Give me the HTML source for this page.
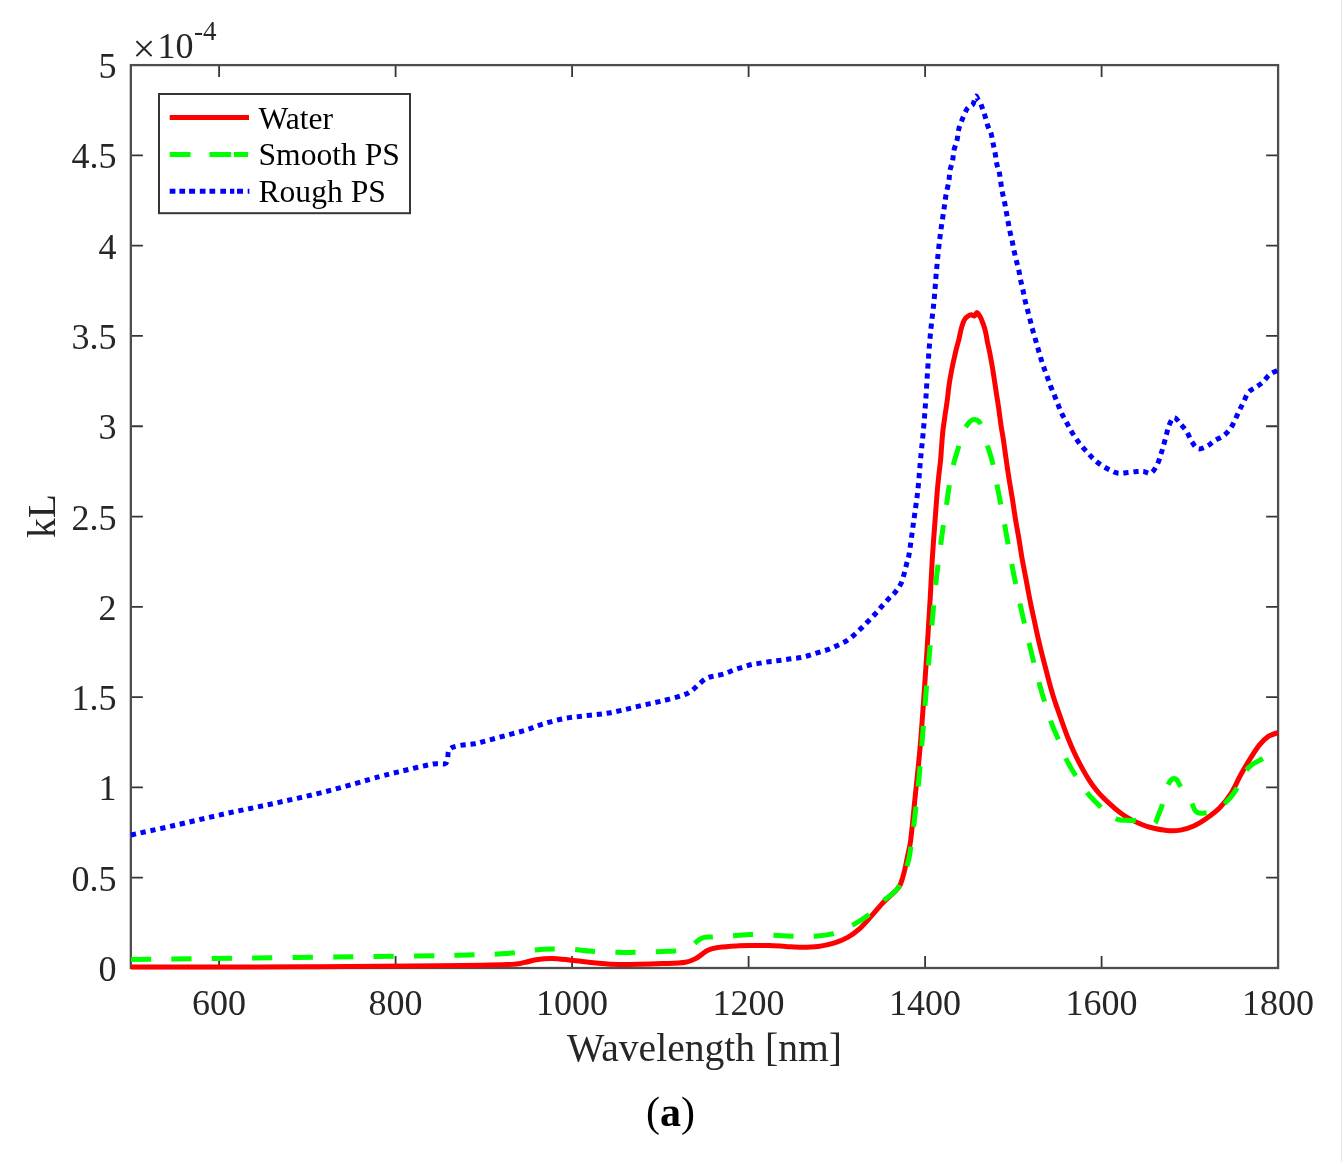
<!DOCTYPE html><html><head><meta charset="utf-8"><style>
html,body{margin:0;padding:0;background:#fff;}
body{width:1344px;height:1164px;overflow:hidden;}
svg{display:block;will-change:transform;}
text{font-family:"Liberation Serif",serif;}
</style></head><body>
<svg width="1344" height="1164" viewBox="0 0 1344 1164">
<rect x="0" y="0" width="1344" height="1164" fill="#ffffff"/>
<rect x="1341" y="0" width="1" height="1162" fill="#f1e4e6"/>
<defs><clipPath id="pc"><rect x="129.35" y="0" width="1149.75" height="1164"/></clipPath></defs>
<path d="M219.10 968.00 V956.00 M219.10 65.10 V77.10 M395.60 968.00 V956.00 M395.60 65.10 V77.10 M572.10 968.00 V956.00 M572.10 65.10 V77.10 M748.60 968.00 V956.00 M748.60 65.10 V77.10 M925.10 968.00 V956.00 M925.10 65.10 V77.10 M1101.60 968.00 V956.00 M1101.60 65.10 V77.10 M130.85 877.71 H142.85 M1278.10 877.71 H1266.10 M130.85 787.42 H142.85 M1278.10 787.42 H1266.10 M130.85 697.13 H142.85 M1278.10 697.13 H1266.10 M130.85 606.84 H142.85 M1278.10 606.84 H1266.10 M130.85 516.55 H142.85 M1278.10 516.55 H1266.10 M130.85 426.26 H142.85 M1278.10 426.26 H1266.10 M130.85 335.97 H142.85 M1278.10 335.97 H1266.10 M130.85 245.68 H142.85 M1278.10 245.68 H1266.10 M130.85 155.39 H142.85 M1278.10 155.39 H1266.10" stroke="#363636" stroke-width="1.8" fill="none"/>
<rect x="130.85" y="65.10" width="1147.25" height="902.90" fill="none" stroke="#4e4e4e" stroke-width="2.3"/>
<g clip-path="url(#pc)" fill="none" stroke-width="5.0" stroke-linejoin="round">
<path d="M131.00 967.00 C159.17 966.97 248.50 967.00 300.00 966.80 C351.50 966.60 405.50 966.17 440.00 965.80 C474.50 965.43 492.87 965.17 507.00 964.60 C521.13 964.03 519.97 963.22 524.80 962.40 C529.63 961.58 531.53 960.37 536.00 959.70 C540.47 959.03 545.65 958.32 551.60 958.40 C557.55 958.48 564.26 959.45 571.70 960.20 C579.14 960.95 588.43 962.17 596.25 962.90 C604.07 963.63 607.44 964.48 618.60 964.60 C629.76 964.72 652.05 964.00 663.20 963.60 C674.35 963.20 679.92 963.13 685.50 962.20 C691.08 961.27 692.97 960.00 696.70 958.00 C700.43 956.00 704.18 951.97 707.90 950.20 C711.62 948.43 714.25 948.12 719.00 947.40 C723.75 946.68 730.78 946.20 736.40 945.90 C742.02 945.60 747.25 945.65 752.70 945.60 C758.15 945.55 763.63 945.47 769.10 945.60 C774.57 945.73 780.05 946.13 785.50 946.40 C790.95 946.67 796.35 947.20 801.80 947.20 C807.25 947.20 812.73 947.13 818.20 946.40 C823.67 945.67 829.68 944.30 834.60 942.80 C839.52 941.30 843.62 939.67 847.70 937.40 C851.78 935.13 855.28 932.62 859.10 929.20 C862.92 925.78 866.50 921.43 870.60 916.90 C874.70 912.37 879.60 906.28 883.70 902.00 C887.80 897.72 892.52 893.95 895.20 891.20 C897.88 888.45 898.50 887.95 899.80 885.50 C901.10 883.05 902.10 879.45 903.00 876.50 C903.90 873.55 904.33 871.70 905.20 867.80 C906.07 863.90 907.28 857.73 908.20 853.10 C909.12 848.47 909.62 848.65 910.70 840.00 C911.78 831.35 913.12 816.83 914.70 801.20 C916.28 785.57 918.45 766.82 920.20 746.20 C921.95 725.58 923.63 700.42 925.20 677.50 C926.77 654.58 928.60 625.07 929.60 608.70 C930.60 592.33 930.75 587.58 931.20 579.30 C931.65 571.02 931.90 565.55 932.30 559.00 C932.70 552.45 933.13 546.50 933.60 540.00 C934.07 533.50 934.68 525.60 935.10 520.00 C935.52 514.40 935.73 511.25 936.10 506.40 C936.47 501.55 936.85 496.05 937.30 490.90 C937.75 485.75 938.25 480.65 938.80 475.50 C939.35 470.35 940.13 464.85 940.60 460.00 C941.07 455.15 941.22 451.25 941.60 446.40 C941.98 441.55 942.33 436.05 942.90 430.90 C943.47 425.75 944.27 420.65 945.00 415.50 C945.73 410.35 946.65 404.85 947.30 400.00 C947.95 395.15 948.20 391.25 948.90 386.40 C949.60 381.55 950.52 376.05 951.50 370.90 C952.48 365.75 953.87 359.65 954.80 355.50 C955.73 351.35 956.42 348.67 957.10 346.00 C957.78 343.33 958.30 342.00 958.90 339.50 C959.50 337.00 960.10 333.50 960.70 331.00 C961.30 328.50 961.85 326.42 962.50 324.50 C963.15 322.58 963.72 320.87 964.60 319.50 C965.48 318.13 966.68 317.10 967.80 316.30 C968.92 315.50 970.20 314.75 971.30 314.70 C972.40 314.65 973.43 316.35 974.40 316.00 C975.37 315.65 976.08 312.37 977.10 312.60 C978.12 312.83 979.53 315.63 980.50 317.40 C981.47 319.17 982.18 321.27 982.90 323.20 C983.62 325.13 984.25 327.03 984.80 329.00 C985.35 330.97 985.75 332.75 986.20 335.00 C986.65 337.25 986.97 339.83 987.50 342.50 C988.03 345.17 988.70 347.52 989.40 351.00 C990.10 354.48 990.93 359.02 991.70 363.40 C992.47 367.78 993.23 372.40 994.00 377.30 C994.77 382.20 995.52 387.65 996.30 392.80 C997.08 397.95 997.92 402.78 998.70 408.20 C999.48 413.62 1000.23 420.13 1001.00 425.30 C1001.77 430.47 1002.49 433.85 1003.30 439.20 C1004.11 444.55 1005.11 452.19 1005.85 457.38 C1006.59 462.56 1007.15 466.43 1007.73 470.30 C1008.30 474.17 1008.78 477.22 1009.33 480.60 C1009.87 483.98 1010.45 487.32 1011.00 490.60 C1011.55 493.88 1012.10 497.02 1012.62 500.30 C1013.15 503.58 1013.61 506.92 1014.12 510.30 C1014.64 513.68 1015.14 517.22 1015.70 520.60 C1016.26 523.98 1016.90 527.32 1017.47 530.60 C1018.05 533.88 1018.63 537.02 1019.17 540.30 C1019.72 543.58 1020.18 546.92 1020.73 550.30 C1021.27 553.68 1021.85 557.22 1022.45 560.60 C1023.05 563.98 1023.72 567.32 1024.35 570.60 C1024.98 573.88 1025.60 577.02 1026.22 580.30 C1026.85 583.58 1027.44 586.92 1028.07 590.30 C1028.71 593.68 1029.35 597.22 1030.03 600.60 C1030.70 603.98 1031.42 607.32 1032.12 610.60 C1032.83 613.88 1033.52 617.02 1034.23 620.30 C1034.93 623.58 1035.61 626.92 1036.35 630.30 C1037.09 633.68 1037.89 637.22 1038.67 640.60 C1039.46 643.98 1040.22 647.12 1041.08 650.60 C1041.93 654.08 1042.78 657.41 1043.83 661.48 C1044.88 665.54 1046.17 670.45 1047.38 675.00 C1048.58 679.55 1049.85 684.57 1051.03 688.75 C1052.20 692.93 1053.27 696.48 1054.43 700.08 C1055.58 703.67 1056.78 706.88 1057.97 710.30 C1059.17 713.72 1060.40 717.22 1061.60 720.60 C1062.80 723.98 1063.98 727.32 1065.20 730.60 C1066.42 733.88 1067.58 737.02 1068.90 740.30 C1070.23 743.58 1071.61 746.92 1073.15 750.30 C1074.69 753.68 1076.40 757.22 1078.12 760.60 C1079.85 763.98 1081.72 767.48 1083.47 770.60 C1085.23 773.73 1086.99 776.68 1088.67 779.35 C1090.36 782.02 1091.88 784.30 1093.58 786.60 C1095.28 788.90 1097.03 791.05 1098.88 793.12 C1100.72 795.20 1102.75 797.20 1104.62 799.05 C1106.50 800.90 1108.33 802.59 1110.10 804.20 C1111.87 805.81 1113.31 807.14 1115.23 808.73 C1117.14 810.31 1119.04 811.95 1121.60 813.72 C1124.16 815.50 1127.43 817.70 1130.60 819.40 C1133.77 821.10 1137.37 822.63 1140.60 823.95 C1143.83 825.27 1145.60 826.21 1150.00 827.30 C1154.40 828.39 1161.93 830.03 1167.00 830.50 C1172.07 830.97 1175.94 830.85 1180.40 830.10 C1184.86 829.35 1189.30 828.02 1193.75 826.00 C1198.20 823.98 1202.72 821.08 1207.10 818.00 C1211.47 814.92 1215.97 811.67 1220.00 807.50 C1224.03 803.33 1227.93 798.28 1231.30 793.00 C1234.67 787.72 1237.25 781.20 1240.20 775.80 C1243.15 770.40 1245.85 765.67 1249.00 760.60 C1252.15 755.53 1255.93 749.40 1259.10 745.40 C1262.27 741.40 1264.85 738.73 1268.00 736.60 C1271.15 734.47 1276.33 733.27 1278.00 732.60" stroke="#ff0000"/>
<path d="M131.00 959.50 C150.83 959.25 209.33 958.50 250.00 958.00 C290.67 957.50 340.33 956.97 375.00 956.50 C409.67 956.03 436.00 955.70 458.00 955.20 C480.00 954.70 494.38 954.35 507.00 953.50 C519.62 952.65 526.32 950.85 533.75 950.10 C541.18 949.35 544.89 949.10 551.60 949.00 C558.31 948.90 567.30 949.12 574.00 949.50 C580.70 949.88 582.52 950.77 591.80 951.25 C601.08 951.73 617.80 952.36 629.70 952.40 C641.60 952.44 655.65 951.75 663.20 951.50 C670.75 951.25 671.37 951.38 675.00 950.90 C678.63 950.42 681.93 949.70 685.00 948.60 C688.07 947.50 691.10 945.77 693.40 944.30 C695.70 942.83 697.02 940.95 698.80 939.80 C700.58 938.65 701.88 937.87 704.10 937.40 C706.32 936.93 707.38 937.25 712.10 937.00 C716.82 936.75 725.90 936.30 732.40 935.90 C738.90 935.50 744.17 934.70 751.10 934.60 C758.03 934.50 767.18 935.03 774.00 935.30 C780.82 935.57 785.45 936.05 792.00 936.20 C798.55 936.35 806.47 936.63 813.30 936.20 C820.13 935.77 826.45 935.45 833.00 933.60 C839.55 931.75 846.75 928.15 852.60 925.10 C858.45 922.05 862.92 919.38 868.10 915.30 C873.28 911.22 878.65 905.23 883.70 900.60 C888.75 895.97 894.45 893.50 898.40 887.50" stroke="#00ff00" stroke-dasharray="20.3 20.1" stroke-dashoffset="0.00"/>
<path d="M898.40 887.50 C902.35 881.50 905.35 871.15 907.40 864.60 C909.45 858.05 909.48 856.02 910.70 848.20 C911.92 840.38 913.33 829.20 914.70 817.70 C916.07 806.20 917.62 792.48 918.90 779.20 C920.18 765.92 921.27 751.75 922.40 738.00 C923.53 724.25 924.55 710.45 925.70 696.70 C926.85 682.95 928.15 668.78 929.30 655.50 C930.45 642.22 931.37 630.30 932.60 617.00 C933.83 603.70 935.30 588.13 936.70 575.70 C938.10 563.27 939.92 550.57 941.00 542.40 C942.08 534.23 942.25 533.18 943.20 526.70 C944.15 520.22 945.73 510.08 946.70 503.50 C947.67 496.92 947.85 493.78 949.00 487.20 C950.15 480.62 952.05 470.57 953.60 464.00 C955.15 457.43 956.68 453.25 958.30 447.80 C959.92 442.35 961.95 434.93 963.30 431.30 C964.65 427.67 965.28 427.63 966.40 426.00 C967.52 424.37 968.65 422.58 970.00 421.50 C971.35 420.42 972.78 419.18 974.50 419.50 C976.22 419.82 978.28 419.47 980.30 423.40 C982.32 427.33 984.60 436.72 986.60 443.10" stroke="#00ff00" stroke-dasharray="20.3 20.1" stroke-dashoffset="17.48"/>
<path d="M986.60 443.10 C988.60 449.48 990.60 454.88 992.30 461.70 C994.00 468.52 994.77 473.62 996.80 484.00 C998.83 494.38 1002.02 510.67 1004.50 524.00 C1006.98 537.33 1009.12 550.67 1011.70 564.00 C1014.28 577.33 1017.07 590.67 1020.00 604.00 C1022.93 617.33 1026.13 630.90 1029.30 644.00 C1032.47 657.10 1035.45 669.82 1039.00 682.60 C1042.55 695.38 1047.47 711.43 1050.60 720.70 C1053.73 729.97 1055.27 731.95 1057.80 738.20 C1060.33 744.45 1062.82 751.93 1065.80 758.20 C1068.78 764.47 1072.17 770.07 1075.70 775.80 C1079.23 781.53 1082.80 787.37 1087.00 792.60 C1091.20 797.83 1097.07 803.47 1100.90 807.20 C1104.73 810.93 1107.20 812.98 1110.00 815.00" stroke="#00ff00" stroke-dasharray="20.3 20.1" stroke-dashoffset="37.99"/>
<path d="M1110.00 815.00 C1112.80 817.02 1115.03 818.42 1117.70 819.30 C1120.37 820.18 1122.62 820.07 1126.00 820.30 C1129.38 820.53 1134.33 820.20 1138.00 820.70 C1141.67 821.20 1145.20 822.87 1148.00 823.30 C1150.80 823.73 1153.07 824.68 1154.80 823.30 C1156.53 821.92 1157.20 817.92 1158.40 815.00 C1159.60 812.08 1160.87 809.30 1162.00 805.80 C1163.13 802.30 1164.17 797.50 1165.20 794.00 C1166.23 790.50 1167.23 787.13 1168.20 784.80 C1169.17 782.47 1170.05 781.05 1171.00 780.00 C1171.95 778.95 1172.90 778.50 1173.90 778.50 C1174.90 778.50 1176.05 778.95 1177.00 780.00 C1177.95 781.05 1178.27 782.55 1179.60 784.80 C1180.93 787.05 1183.03 790.50 1185.00 793.50 C1186.97 796.50 1189.70 799.92 1191.40 802.80 C1193.10 805.68 1193.93 809.10 1195.20 810.80 C1196.47 812.50 1197.37 812.63 1199.00 813.00 C1200.63 813.37 1202.17 813.50 1205.00 813.00 C1207.83 812.50 1212.67 811.63 1216.00 810.00 C1219.33 808.37 1222.03 806.00 1225.00 803.20 C1227.97 800.40 1231.30 796.73 1233.80 793.20 C1236.30 789.67 1238.13 785.57 1240.00 782.00 C1241.87 778.43 1242.87 774.80 1245.00 771.80 C1247.13 768.80 1250.02 766.08 1252.80 764.00 C1255.58 761.92 1258.83 760.80 1261.70 759.30 C1264.57 757.80 1267.28 756.38 1270.00 755.00 C1272.72 753.62 1276.67 751.67 1278.00 751.00" stroke="#00ff00" stroke-dasharray="20.3 20.1" stroke-dashoffset="33.75"/>
<path d="M131.00 835.00 C137.83 833.50 156.50 829.50 172.00 826.00 C187.50 822.50 206.67 817.83 224.00 814.00 C241.33 810.17 258.67 806.83 276.00 803.00 C293.33 799.17 310.67 795.42 328.00 791.00 C345.33 786.58 366.92 780.00 380.00 776.50 C393.08 773.00 397.67 772.08 406.50 770.00 C415.33 767.92 426.67 765.02 433.00 764.00 C439.33 762.98 442.08 764.57 444.50 763.90 C446.92 763.23 446.75 762.32 447.50 760.00 C448.25 757.68 447.45 752.33 449.00 750.00 C450.55 747.67 452.53 747.03 456.80 746.00 C461.07 744.97 469.77 744.65 474.60 743.80 C479.43 742.95 480.58 742.28 485.80 740.90 C491.02 739.52 499.20 737.32 505.90 735.50 C512.60 733.68 519.68 731.97 526.00 730.00 C532.32 728.03 537.47 725.60 543.80 723.70 C550.13 721.80 557.30 719.90 564.00 718.60 C570.70 717.30 577.33 716.72 584.00 715.90 C590.67 715.08 597.67 714.63 604.00 713.70 C610.33 712.77 615.67 711.68 622.00 710.30 C628.33 708.92 635.33 706.95 642.00 705.40 C648.67 703.85 655.30 702.67 662.00 701.00 C668.70 699.33 677.37 697.02 682.20 695.40 C687.03 693.78 688.28 693.10 691.00 691.30 C693.72 689.50 695.92 686.78 698.50 684.60 C701.08 682.42 703.87 679.63 706.50 678.20 C709.13 676.77 711.38 676.70 714.30 676.00 C717.22 675.30 720.88 674.93 724.00 674.00 C727.12 673.07 729.85 671.55 733.00 670.40 C736.15 669.25 739.77 668.08 742.90 667.10 C746.03 666.12 748.68 665.20 751.80 664.50 C754.92 663.80 758.33 663.42 761.60 662.90 C764.87 662.38 768.12 661.85 771.40 661.40 C774.68 660.95 778.03 660.64 781.30 660.20 C784.57 659.76 787.73 659.20 791.00 658.75 C794.27 658.30 797.77 658.09 800.90 657.50 C804.03 656.91 806.68 656.10 809.80 655.20 C812.92 654.30 816.47 653.08 819.60 652.10 C822.73 651.12 825.62 650.42 828.60 649.30 C831.58 648.18 834.53 646.80 837.50 645.40 C840.47 644.00 843.57 642.70 846.40 640.90 C849.23 639.10 851.97 636.77 854.50 634.60 C857.03 632.43 859.23 630.22 861.60 627.90 C863.98 625.58 866.37 623.15 868.75 620.70 C871.13 618.25 873.67 615.65 875.90 613.20 C878.12 610.75 879.87 608.53 882.10 606.00 C884.33 603.47 887.07 600.37 889.30 598.00 C891.53 595.63 893.57 594.17 895.50 591.80 C897.43 589.42 899.47 586.73 900.90 583.75 C902.33 580.77 903.12 577.32 904.10 573.90 C905.08 570.48 905.93 566.65 906.80 563.20 C907.67 559.75 908.20 559.85 909.30 553.20 C910.40 546.55 912.00 533.57 913.40 523.30 C914.80 513.03 916.52 502.18 917.70 491.60 C918.88 481.02 919.52 470.40 920.50 459.80 C921.48 449.20 922.68 438.58 923.60 428.00 C924.52 417.42 925.27 406.87 926.00 396.30 C926.73 385.73 927.25 375.17 928.00 364.60 C928.75 354.03 929.50 343.48 930.50 332.90 C931.50 322.32 932.98 311.68 934.00 301.10 C935.02 290.52 935.62 279.98 936.60 269.40 C937.58 258.82 938.67 247.67 939.90 237.60 C941.13 227.53 942.98 216.10 944.00 209.00 C945.02 201.90 945.18 199.67 946.00 195.00 C946.82 190.33 948.25 185.05 948.90 181.00 C949.55 176.95 949.30 173.97 949.90 170.70 C950.50 167.43 951.82 164.83 952.50 161.40 C953.18 157.97 953.23 153.70 954.00 150.10 C954.77 146.50 956.32 143.23 957.10 139.80 C957.88 136.37 957.83 132.93 958.70 129.50 C959.57 126.07 960.85 122.72 962.30 119.20 C963.75 115.68 965.68 110.82 967.40 108.40 C969.12 105.98 971.42 106.10 972.60 104.70 C973.78 103.30 973.90 101.45 974.50 100.00 C975.10 98.55 975.65 96.17 976.20 96.00 C976.75 95.83 977.28 98.23 977.80 99.00 C978.32 99.77 978.62 99.30 979.30 100.60 C979.98 101.90 980.95 104.23 981.90 106.80 C982.85 109.37 983.98 112.73 985.00 116.00 C986.02 119.27 986.98 123.47 988.00 126.40 C989.02 129.33 990.23 130.68 991.10 133.60 C991.97 136.52 992.50 140.47 993.20 143.90 C993.90 147.33 994.70 150.85 995.30 154.20 C995.90 157.55 996.15 161.03 996.80 164.00 C997.45 166.97 998.57 169.17 999.20 172.00 C999.83 174.83 1000.10 177.75 1000.60 181.00 C1001.10 184.25 1001.58 188.20 1002.20 191.50 C1002.82 194.80 1003.65 197.58 1004.30 200.80 C1004.95 204.02 1005.50 207.48 1006.10 210.80 C1006.70 214.12 1007.30 217.40 1007.90 220.70 C1008.50 224.00 1009.02 227.35 1009.70 230.60 C1010.38 233.85 1011.28 236.88 1012.00 240.20 C1012.72 243.52 1013.28 247.13 1014.00 250.50 C1014.72 253.87 1015.52 257.20 1016.30 260.40 C1017.08 263.60 1017.98 266.43 1018.70 269.70 C1019.42 272.97 1019.92 276.73 1020.60 280.00 C1021.28 283.27 1022.08 286.00 1022.80 289.30 C1023.52 292.60 1024.13 296.43 1024.90 299.80 C1025.67 303.17 1026.57 306.28 1027.40 309.50 C1028.23 312.72 1029.05 315.80 1029.90 319.10 C1030.75 322.40 1031.62 326.05 1032.50 329.30 C1033.38 332.55 1034.28 335.40 1035.20 338.60 C1036.12 341.80 1037.08 345.27 1038.00 348.50 C1038.92 351.73 1039.75 354.90 1040.70 358.00 C1041.65 361.10 1042.63 364.03 1043.70 367.10 C1044.77 370.17 1045.97 373.25 1047.10 376.40 C1048.23 379.55 1049.30 382.90 1050.50 386.00 C1051.70 389.10 1053.03 391.88 1054.30 395.00 C1055.57 398.12 1056.85 401.60 1058.10 404.70 C1059.35 407.80 1060.45 410.77 1061.80 413.60 C1063.15 416.43 1064.73 418.95 1066.20 421.70 C1067.67 424.45 1069.05 427.42 1070.60 430.10 C1072.15 432.78 1073.78 435.27 1075.50 437.80 C1077.22 440.33 1078.88 442.83 1080.90 445.30 C1082.92 447.77 1085.40 450.22 1087.60 452.60 C1089.80 454.98 1091.73 457.45 1094.10 459.60 C1096.47 461.75 1099.10 463.73 1101.80 465.50 C1104.50 467.27 1107.57 468.92 1110.30 470.20 C1113.03 471.48 1115.32 472.80 1118.20 473.20 C1121.08 473.60 1124.50 472.88 1127.60 472.60 C1130.70 472.32 1134.10 471.68 1136.80 471.50 C1139.50 471.32 1141.45 471.22 1143.80 471.50 C1146.15 471.78 1148.65 474.38 1150.90 473.20 C1153.15 472.02 1155.65 467.52 1157.30 464.40 C1158.95 461.28 1159.75 457.68 1160.80 454.50 C1161.85 451.32 1162.67 448.60 1163.60 445.30 C1164.53 442.00 1165.45 438.12 1166.40 434.70 C1167.35 431.28 1168.00 427.67 1169.30 424.80 C1170.60 421.93 1172.20 417.50 1174.20 417.50 C1176.20 417.50 1179.18 422.40 1181.30 424.80 C1183.42 427.20 1185.13 429.07 1186.90 431.90 C1188.67 434.73 1190.02 438.98 1191.90 441.80 C1193.78 444.62 1195.62 448.10 1198.20 448.80 C1200.78 449.50 1204.68 447.35 1207.40 446.00 C1210.12 444.65 1211.90 442.35 1214.50 440.70 C1217.10 439.05 1220.40 438.03 1223.00 436.10 C1225.60 434.17 1228.10 431.80 1230.10 429.10 C1232.10 426.40 1233.48 422.97 1235.00 419.90 C1236.52 416.83 1237.78 413.65 1239.20 410.70 C1240.62 407.75 1241.97 405.27 1243.50 402.20 C1245.03 399.13 1246.40 394.77 1248.40 392.30 C1250.40 389.83 1253.13 389.05 1255.50 387.40 C1257.87 385.75 1260.25 384.53 1262.60 382.40 C1264.95 380.27 1267.03 376.63 1269.60 374.60 C1272.17 372.57 1276.60 370.93 1278.00 370.20" stroke="#0000ff" stroke-dasharray="5.2 4.8"/>
</g>
<text x="116.5" y="981.0" font-size="36" fill="#262626" text-anchor="end">0</text>
<text x="116.5" y="890.7" font-size="36" fill="#262626" text-anchor="end">0.5</text>
<text x="116.5" y="800.4" font-size="36" fill="#262626" text-anchor="end">1</text>
<text x="116.5" y="710.1" font-size="36" fill="#262626" text-anchor="end">1.5</text>
<text x="116.5" y="619.8" font-size="36" fill="#262626" text-anchor="end">2</text>
<text x="116.5" y="529.5" font-size="36" fill="#262626" text-anchor="end">2.5</text>
<text x="116.5" y="439.3" font-size="36" fill="#262626" text-anchor="end">3</text>
<text x="116.5" y="349.0" font-size="36" fill="#262626" text-anchor="end">3.5</text>
<text x="116.5" y="258.7" font-size="36" fill="#262626" text-anchor="end">4</text>
<text x="116.5" y="168.4" font-size="36" fill="#262626" text-anchor="end">4.5</text>
<text x="116.5" y="78.1" font-size="36" fill="#262626" text-anchor="end">5</text>
<text x="219.1" y="1014.6" font-size="36" fill="#262626" text-anchor="middle">600</text>
<text x="395.6" y="1014.6" font-size="36" fill="#262626" text-anchor="middle">800</text>
<text x="572.1" y="1014.6" font-size="36" fill="#262626" text-anchor="middle">1000</text>
<text x="748.6" y="1014.6" font-size="36" fill="#262626" text-anchor="middle">1200</text>
<text x="925.1" y="1014.6" font-size="36" fill="#262626" text-anchor="middle">1400</text>
<text x="1101.6" y="1014.6" font-size="36" fill="#262626" text-anchor="middle">1600</text>
<text x="1278.1" y="1014.6" font-size="36" fill="#262626" text-anchor="middle">1800</text>
<text x="157.5" y="57.6" font-size="36" fill="#262626">10</text>
<text x="144.1" y="62.3" font-size="40.7" fill="#262626" text-anchor="middle">&#215;</text>
<text x="194" y="39.7" font-size="27" fill="#262626">-4</text>
<text x="704.5" y="1060.8" font-size="39.6" fill="#262626" text-anchor="middle">Wavelength [nm]</text>
<text transform="translate(54.6 516) rotate(-90)" font-size="39.6" fill="#262626" text-anchor="middle">kL</text>
<rect x="159" y="94" width="251" height="119.2" fill="#ffffff" stroke="#363636" stroke-width="2"/>
<path d="M169.7 117.5 H249" stroke="#ff0000" stroke-width="5.0"/>
<path d="M169.7 154.6 H248.1" stroke="#00ff00" stroke-width="5.0" stroke-dasharray="20.8 19 21.8 2.7 14.1 100"/>
<path d="M169.7 191.2 H249.4" stroke="#0000ff" stroke-width="5.0" stroke-dasharray="5.7 4 5.7 4 6 4.7 5.7 4 5.7 5.1 5.7 4 4.3 2.7 6 4.7 1.7 20"/>
<text x="258.5" y="128.7" font-size="31.6" fill="#000">Water</text>
<text x="258.5" y="165.2" font-size="31.6" fill="#000">Smooth PS</text>
<text x="258.5" y="201.7" font-size="31.6" fill="#000">Rough PS</text>
<text x="670.5" y="1125.8" font-size="42" fill="#000" text-anchor="middle">(<tspan font-weight="bold">a</tspan>)</text>
</svg></body></html>
